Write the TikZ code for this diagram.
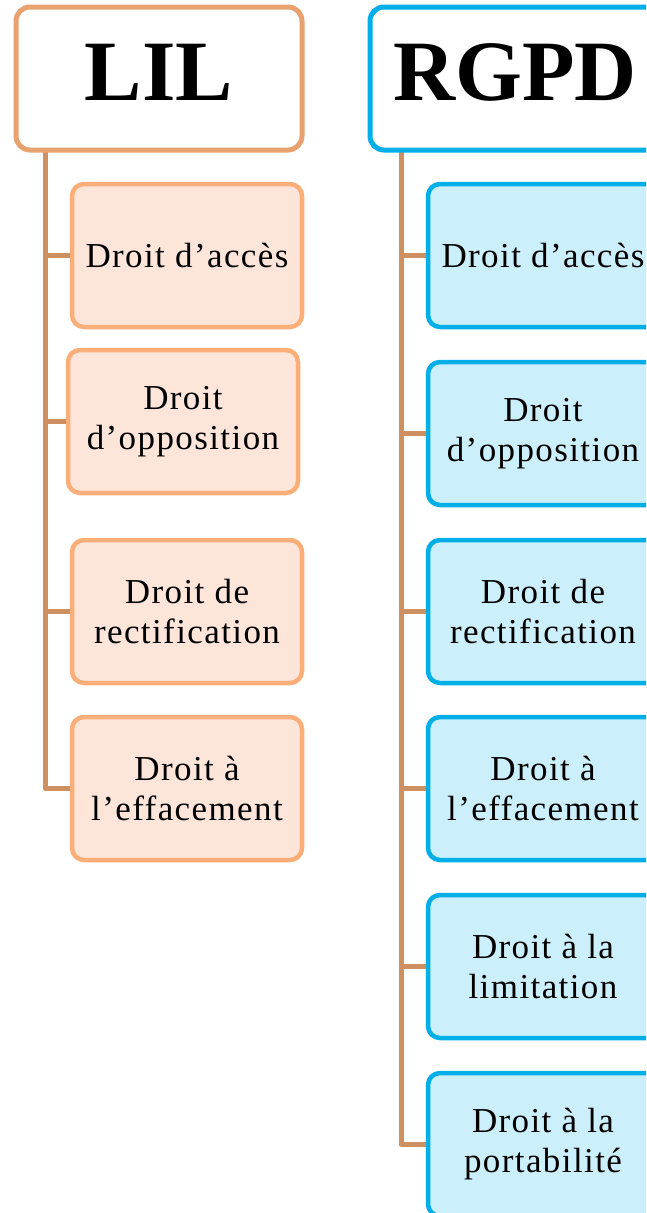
\documentclass[tikz,border=0pt]{standalone}
\usepackage{fontspec}
\setmainfont{Liberation Serif}
\newfontfamily\boxfont[LetterSpace=4]{Liberation Serif}
\definecolor{lilborder}{HTML}{E8A26F}
\definecolor{lilchild}{HTML}{FBAE78}
\definecolor{lilfill}{HTML}{FDE5DA}
\definecolor{rgborder}{HTML}{00AEE8}
\definecolor{rgfill}{HTML}{CCEFFC}
\definecolor{conncol}{HTML}{CF9061}
\begin{document}
\begin{tikzpicture}[x=1pt,y=-1pt,
  header/.style={draw, line width=5pt, rounded corners=14pt, fill=white,
    minimum width=#1, minimum height=143pt, inner sep=0pt,
    font=\fontsize{86}{90}\selectfont\bfseries, text height=60pt, text depth=17pt},
  lilbox/.style={draw=lilchild, fill=lilfill, line width=4.5pt, rounded corners=12pt,
    minimum width=230pt, minimum height=143pt, inner sep=0pt, align=center,
    font=\boxfont\fontsize{35}{40}\selectfont},
  rgbox/.style={draw=rgborder, fill=rgfill, line width=4.5pt, rounded corners=12pt,
    minimum width=230pt, minimum height=143pt, inner sep=0pt, align=center,
    font=\boxfont\fontsize{35}{40}\selectfont},
  conn/.style={draw=conncol, line width=5pt, line join=round}]
\useasboundingbox (0,0) rectangle (646,1213);
\clip (0,0) rectangle (646,1213);
\coordinate (lx) at (45,0);
\coordinate (rx) at (401,0);
% LIL column
\node[lilbox] (l1) at (187,255.5) {Droit d’accès};
\node[lilbox] (l2) at (183,421.5) {Droit\\d’opposition};
\node[lilbox] (l3) at (187,611.5) {Droit de\\rectification};
\node[lilbox] (l4) at (187,788.5) {Droit à\\l’effacement};
% RGPD column
\node[rgbox] (r1) at (543,255.5) {Droit d’accès};
\node[rgbox] (r2) at (543,433.5) {Droit\\d’opposition};
\node[rgbox] (r3) at (543,611.5) {Droit de\\rectification};
\node[rgbox] (r4) at (543,788.5) {Droit à\\l’effacement};
\node[rgbox] (r5) at (543,966.5) {Droit à la\\limitation};
\node[rgbox] (r6) at (543,1144.5) {Droit à la\\portabilité};
% connectors
\coordinate (ltop) at (45,140);
\coordinate (rtop) at (401,140);
\draw[conn] (ltop) |- (l4.west);
\draw[conn] (lx |- l1.west) -- (l1.west);
\draw[conn] (lx |- l2.west) -- (l2.west);
\draw[conn] (lx |- l3.west) -- (l3.west);
\draw[conn] (rtop) |- (r6.west);
\draw[conn] (rx |- r1.west) -- (r1.west);
\draw[conn] (rx |- r2.west) -- (r2.west);
\draw[conn] (rx |- r3.west) -- (r3.west);
\draw[conn] (rx |- r4.west) -- (r4.west);
\draw[conn] (rx |- r5.west) -- (r5.west);
% headers
\node[header=286pt, draw=lilborder] (lil) at (159,78.5) {LIL};
\node[header=290pt, draw=rgborder] (rgpd) at (515,78.5) {RGPD};
\end{tikzpicture}
\end{document}
